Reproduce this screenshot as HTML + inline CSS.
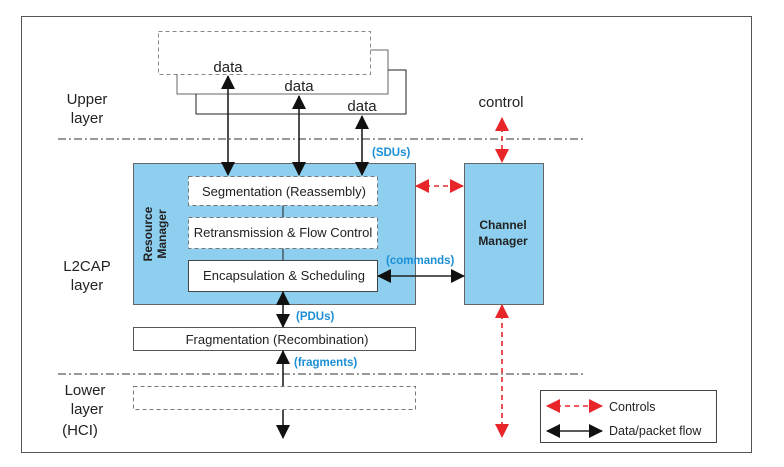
<!DOCTYPE html>
<html><head><style>body{margin:0;background:#fff}svg{display:block}</style></head><body>
<svg width="784" height="467" xmlns="http://www.w3.org/2000/svg" font-family="Liberation Sans, sans-serif">
<defs>
<marker id="bb" markerWidth="14" markerHeight="14" refX="13" refY="7" orient="auto-start-reverse" markerUnits="userSpaceOnUse"><path d="M0,0 L14,7 L0,14 z" fill="#111"/></marker>
<marker id="r" markerWidth="14" markerHeight="14" refX="13" refY="7" orient="auto-start-reverse" markerUnits="userSpaceOnUse"><path d="M0,0 L14,7 L0,14 z" fill="#e8262a"/></marker>
</defs>
<rect x="21.5" y="16.5" width="730" height="436" fill="none" stroke="#555" stroke-width="1"/>
<path d="M177,74 V94 H388 V50 H370" fill="none" stroke="#666"/>
<path d="M196,94 V114 H406 V70 H388" fill="none" stroke="#222"/>
<rect x="158.5" y="31.5" width="212" height="43" fill="#fff" stroke="#888" stroke-dasharray="4,3"/>
<path d="M177,74 V94" stroke="#666"/>
<text x="228" y="72" font-size="15" fill="#222" text-anchor="middle">data</text>
<text x="299" y="91" font-size="15" fill="#222" text-anchor="middle">data</text>
<text x="362" y="111" font-size="15" fill="#222" text-anchor="middle">data</text>
<line x1="58" y1="139" x2="584" y2="139" stroke="#333" stroke-dasharray="8,3,2,3"/>
<line x1="58" y1="374" x2="584" y2="374" stroke="#333" stroke-dasharray="8,3,2,3"/>
<g font-size="15" fill="#222" text-anchor="middle">
<text x="87" y="104">Upper</text><text x="87" y="123">layer</text>
<text x="87" y="271">L2CAP</text><text x="87" y="290">layer</text>
<text x="85" y="395">Lower</text><text x="87" y="414">layer</text><text x="80" y="435">(HCI)</text>
<text x="501" y="107">control</text>
</g>
<rect x="133.5" y="163.5" width="282" height="141" fill="#8ecff0" stroke="#666"/>
<text transform="translate(152,234) rotate(-90)" font-size="12" font-weight="bold" fill="#222" text-anchor="middle">Resource</text>
<text transform="translate(166,234) rotate(-90)" font-size="12" font-weight="bold" fill="#222" text-anchor="middle">Manager</text>
<line x1="283" y1="205" x2="283" y2="260" stroke="#222"/>
<rect x="188.5" y="176.5" width="189" height="29" fill="#fff" stroke="#777" stroke-dasharray="4,3"/>
<rect x="188.5" y="217.5" width="189" height="31" fill="#fff" stroke="#777" stroke-dasharray="4,3"/>
<rect x="188.5" y="260.5" width="189" height="31" fill="#fff" stroke="#444"/>
<g font-size="13" fill="#222" text-anchor="middle">
<text x="284" y="196">Segmentation (Reassembly)</text>
<text x="283" y="237">Retransmission &amp; Flow Control</text>
<text x="284" y="280">Encapsulation &amp; Scheduling</text>
</g>
<rect x="464.5" y="163.5" width="79" height="141" fill="#8ecff0" stroke="#666"/>
<text x="503" y="229" font-size="12" font-weight="bold" fill="#222" text-anchor="middle">Channel</text>
<text x="503" y="245" font-size="12" font-weight="bold" fill="#222" text-anchor="middle">Manager</text>
<rect x="133.5" y="327.5" width="282" height="23" fill="#fff" stroke="#555"/>
<text x="277" y="344" font-size="13" fill="#222" text-anchor="middle">Fragmentation (Recombination)</text>
<rect x="133.5" y="386.5" width="282" height="23" fill="none" stroke="#777" stroke-dasharray="4,3"/>
<g stroke="#222" stroke-width="1.6">
<line x1="228" y1="76" x2="228" y2="175" marker-start="url(#bb)" marker-end="url(#bb)"/>
<line x1="299" y1="96" x2="299" y2="175" marker-start="url(#bb)" marker-end="url(#bb)"/>
<line x1="362" y1="116" x2="362" y2="175" marker-start="url(#bb)" marker-end="url(#bb)"/>
<line x1="283" y1="292" x2="283" y2="327" marker-start="url(#bb)" marker-end="url(#bb)"/>
<line x1="283" y1="386" x2="283" y2="351" marker-end="url(#bb)"/>
<line x1="283" y1="410" x2="283" y2="438" marker-end="url(#bb)"/>
<line x1="378" y1="276" x2="464" y2="276" marker-start="url(#bb)" marker-end="url(#bb)"/>
</g>
<g stroke="#e8262a" stroke-width="1.6" stroke-dasharray="5,4">
<line x1="416" y1="186" x2="463" y2="186" marker-start="url(#r)" marker-end="url(#r)"/>
<line x1="502" y1="118" x2="502" y2="162" marker-start="url(#r)" marker-end="url(#r)"/>
<line x1="502" y1="305" x2="502" y2="437" marker-start="url(#r)" marker-end="url(#r)"/>
</g>
<g font-size="11.5" font-weight="bold" fill="#1a8fd6">
<text x="372" y="156">(SDUs)</text>
<text x="296" y="320">(PDUs)</text>
<text x="294" y="366">(fragments)</text>
<text x="386" y="264">(commands)</text>
</g>
<rect x="540.5" y="390.5" width="176" height="52" fill="#fff" stroke="#444"/>
<line x1="547" y1="406" x2="602" y2="406" stroke="#e8262a" stroke-width="1.6" stroke-dasharray="5,4" marker-start="url(#r)" marker-end="url(#r)"/>
<line x1="547" y1="431" x2="602" y2="431" stroke="#222" stroke-width="1.6" marker-start="url(#bb)" marker-end="url(#bb)"/>
<text x="609" y="411" font-size="12.5" fill="#222">Controls</text>
<text x="609" y="435" font-size="12.5" fill="#222">Data/packet flow</text>
</svg>
</body></html>
